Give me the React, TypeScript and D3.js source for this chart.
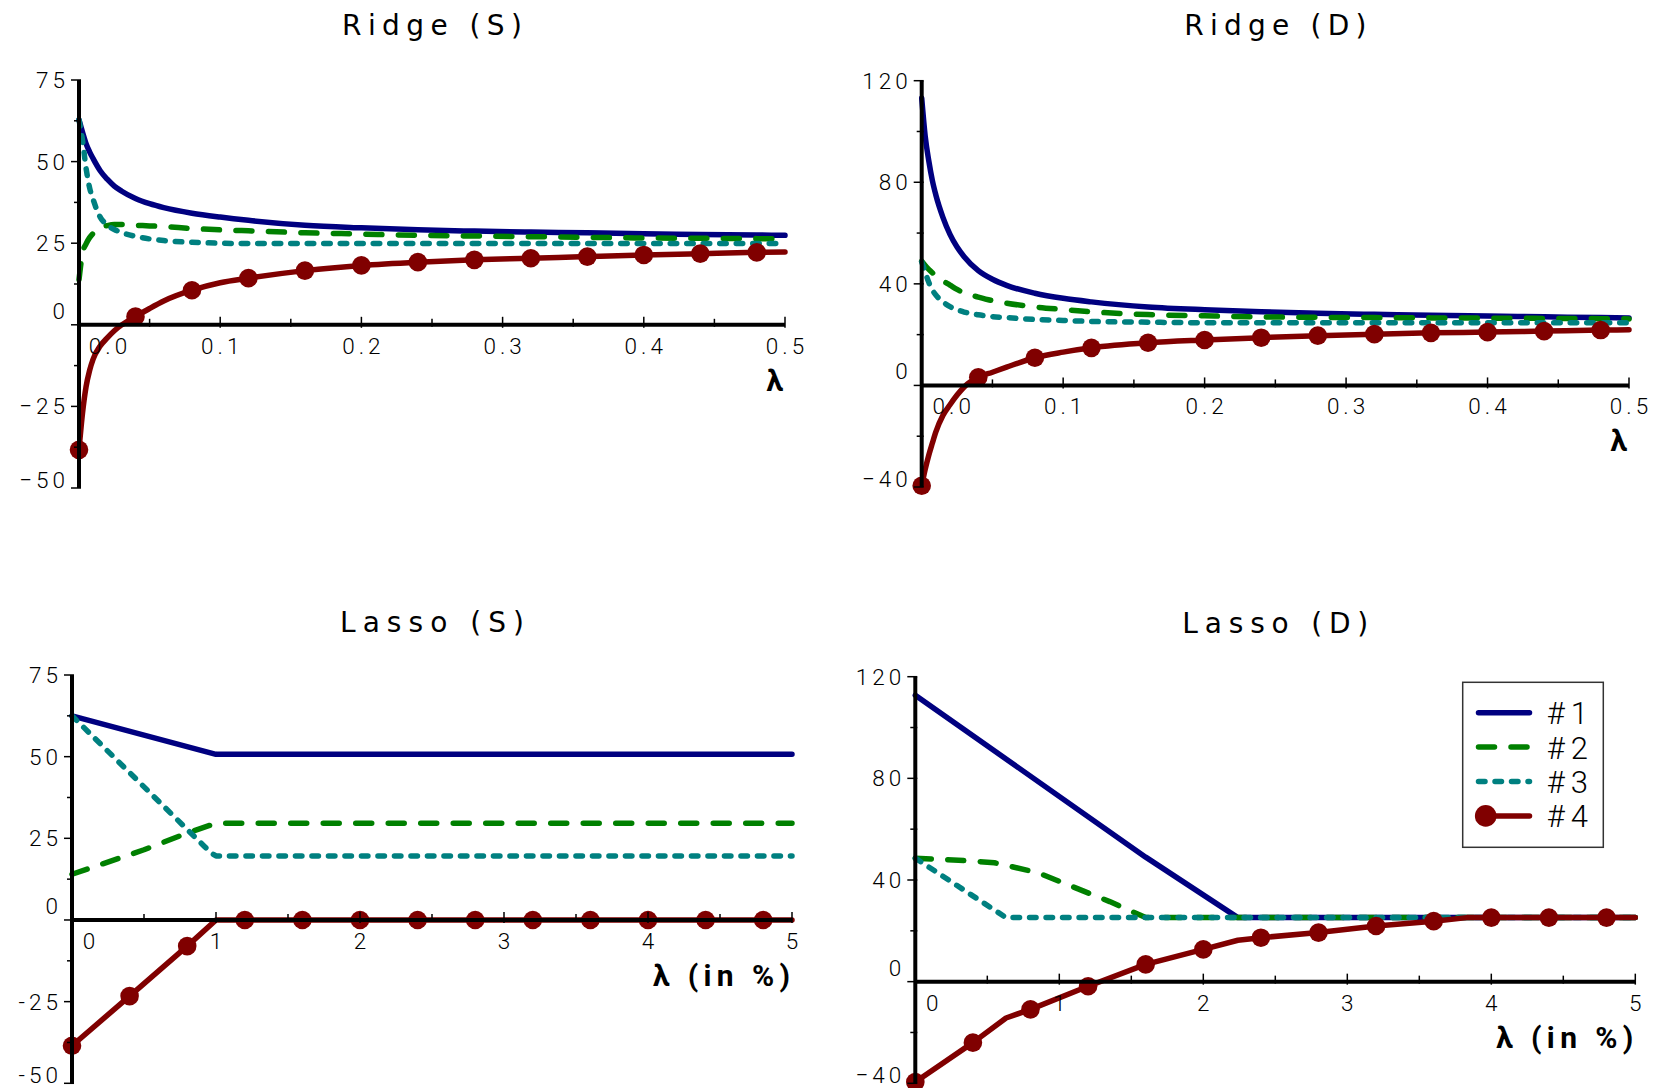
import React from 'react';
import * as d3 from 'd3';

// ---- Ridge paths (lambda from 0 to 0.5) ----
const RIDGE_LAMBDA = [0, 0.0025, 0.005, 0.0075, 0.01, 0.015, 0.02, 0.025, 0.03, 0.04, 0.05, 0.06, 0.08, 0.1, 0.12, 0.16, 0.2, 0.24, 0.28, 0.32, 0.36, 0.4, 0.44, 0.48, 0.5];

const RIDGE_S_1 = [62.8, 59.0, 55.5, 53.0, 50.9, 47.2, 44.6, 42.5, 41.0, 38.7, 37.1, 35.9, 34.2, 33.0, 32.0, 30.5, 29.7, 29.1, 28.7, 28.4, 28.2, 27.9, 27.7, 27.5, 27.4];
const RIDGE_S_2 = [13.8, 22.0, 24.8, 26.7, 28.0, 29.8, 30.4, 30.7, 30.7, 30.5, 30.3, 30.1, 29.5, 29.1, 28.8, 28.2, 27.8, 27.4, 27.2, 27.0, 26.8, 26.6, 26.5, 26.4, 26.3];
const RIDGE_S_3 = [62.8, 56.5, 48.0, 42.0, 38.4, 33.0, 30.6, 29.2, 28.3, 27.1, 26.3, 25.8, 25.3, 25.0, 24.9, 24.9, 24.9, 24.9, 24.9, 24.9, 24.9, 24.9, 24.9, 24.9, 24.9];
const RIDGE_S_4 = [-38.3, -27.0, -19.0, -14.0, -10.5, -6.5, -4.0, -1.8, -0.1, 2.5, 5.0, 7.3, 10.6, 12.9, 14.3, 16.6, 18.2, 19.2, 19.9, 20.4, 20.9, 21.4, 21.8, 22.2, 22.3];

const RIDGE_D_1 = [113.2, 98.0, 88.5, 80.8, 75.0, 66.2, 59.5, 54.5, 50.7, 45.2, 41.8, 39.4, 36.3, 34.3, 32.9, 30.9, 29.8, 29.0, 28.4, 28.0, 27.6, 27.3, 27.0, 26.7, 26.6];
const RIDGE_D_2 = [48.9, 47.2, 45.7, 44.4, 43.2, 41.2, 39.5, 37.8, 36.4, 34.8, 33.4, 32.4, 30.9, 29.9, 29.0, 27.9, 27.4, 27.0, 26.8, 26.7, 26.6, 26.5, 26.4, 26.3, 26.2];
const RIDGE_D_3 = [48.7, 44.6, 40.6, 37.6, 35.6, 32.9, 31.0, 29.8, 28.9, 27.8, 27.1, 26.7, 26.0, 25.6, 25.2, 24.9, 24.7, 24.7, 24.7, 24.7, 24.7, 24.7, 24.7, 24.7, 24.7];
const RIDGE_D_4 = [-39.5, -33.0, -27.5, -22.8, -18.3, -11.8, -7.6, -3.8, -0.6, 3.2, 5.2, 7.2, 10.9, 13.1, 14.8, 16.8, 17.9, 18.8, 19.6, 20.2, 20.7, 21.0, 21.4, 21.8, 21.9];

const RIDGE_MARKERS = [0, 0.04, 0.08, 0.12, 0.16, 0.2, 0.24, 0.28, 0.32, 0.36, 0.4, 0.44, 0.48];

// ---- Lasso paths (lambda in %, from 0 to 5) ----
const LASSO_S_1_X = [0, 1, 5];
const LASSO_S_1 = [62.5, 50.7, 50.7];
const LASSO_S_2_X = [0, 0.5, 0.8, 1, 5];
const LASSO_S_2 = [14.0, 21.5, 26.6, 29.6, 29.6];
const LASSO_S_3_X = [0, 0.92, 0.97, 1, 5];
const LASSO_S_3 = [62.5, 22.5, 20.4, 19.6, 19.6];
const LASSO_S_4_X = [0, 0.4, 0.8, 1, 1.2, 1.6, 2, 2.4, 2.8, 3.2, 3.6, 4, 4.4, 4.8, 5];
const LASSO_S_4 = [-38.5, -23.3, -8.0, 0, 0, 0, 0, 0, 0, 0, 0, 0, 0, 0, 0];

const LASSO_D_1_X = [0, 1.6, 2.24, 5];
const LASSO_D_1 = [112.7, 49.0, 25.2, 25.2];
const LASSO_D_2_X = [0, 0.3, 0.55, 0.85, 1.1, 1.35, 1.6, 5];
const LASSO_D_2 = [48.6, 47.8, 46.8, 42.9, 37.2, 31.5, 25.2, 25.2];
const LASSO_D_3_X = [0, 0.63, 5];
const LASSO_D_3 = [48.6, 25.2, 25.2];
const LASSO_D_4_X = [0, 0.4, 0.63, 0.8, 1.2, 1.6, 2, 2.24, 2.4, 2.8, 3.2, 3.6, 3.83, 4, 4.4, 4.8, 5];
const LASSO_D_4 = [-39.5, -24.0, -14.3, -10.9, -1.8, 6.8, 12.7, 16.3, 17.3, 19.3, 21.9, 23.8, 25.2, 25.2, 25.2, 25.2, 25.2];

const LASSO_MARKERS = [0, 0.4, 0.8, 1.2, 1.6, 2, 2.4, 2.8, 3.2, 3.6, 4, 4.4, 4.8];

// ---- axis ticks ----
const S_Y_TICKS = [75, 50, 25, 0, -25, -50];
const S_Y_MINOR = [62.5, 37.5, 12.5, -12.5, -37.5];
const D_Y_TICKS = [120, 80, 40, 0, -40];
const D_Y_MINOR = [100, 60, 20, -20];
const RIDGE_X_TICKS = [0.1, 0.2, 0.3, 0.4, 0.5];
const RIDGE_X_MINOR = [0.05, 0.15, 0.25, 0.35, 0.45];
const LASSO_X_TICKS = [1, 2, 3, 4, 5];
const LASSO_X_MINOR = [0.5, 1.5, 2.5, 3.5, 4.5];

const LEGEND_LABELS = ['#1', '#2', '#3', '#4'];

const COLORS = ['#000080', '#008000', '#008080', '#800000'];
const DASHES = [undefined, '16 16.5', '6.5 10', undefined];
const LINE_W = 5.5;

const TICK_FONT = 'Roboto, "DejaVu Sans", sans-serif';
const TITLE_FONT = '"DejaVu Sans", Roboto, sans-serif';

type Series = { x: number[]; y: number[] };

interface PanelCfg {
  title: string;
  titleWidth: number;
  titleY: number;
  left: number;
  right: number;
  top: number;
  bottom: number;
  xDomain: [number, number];
  yDomain: [number, number];
  yTicks: number[];
  yMinor: number[];
  xTicks: number[];
  xMinor: number[];
  xFmt: (v: number) => string;
  zeroLabel: string;
  zeroOffset: number;
  axisLabel: string;
  axisLabelWidth?: number;
  minus: string;
  smooth: boolean;
  series: Series[];
  markers: number[];
}

const LS = 4;

function Panel({ cfg }: { cfg: PanelCfg }) {
  const x = d3.scaleLinear().domain(cfg.xDomain).range([cfg.left, cfg.right]);
  const y = d3.scaleLinear().domain(cfg.yDomain).range([cfg.bottom, cfg.top]);
  const ax = x(0);
  const ay = y(0);
  const line = d3
    .line<[number, number]>()
    .x((d) => x(d[0]))
    .y((d) => y(d[1]))
    .curve(cfg.smooth ? d3.curveMonotoneX : d3.curveLinear);

  const yMin = cfg.yDomain[0];
  const red = cfg.series[3];
  const markerPts = cfg.markers
    .map((m) => {
      const i = red.x.findIndex((v) => Math.abs(v - m) < 1e-9);
      return i >= 0 ? [red.x[i], red.y[i]] : null;
    })
    .filter(Boolean) as [number, number][];

  return (
    <g>
      <text
        x={(cfg.left + cfg.right) / 2}
        y={cfg.titleY}
        textAnchor="middle"
        fontFamily={TITLE_FONT}
        fontSize={28}
        textLength={cfg.titleWidth}
        lengthAdjust="spacing"
        fill="#000"
      >
        {cfg.title}
      </text>

      {/* curves */}
      {cfg.series.map((s, i) => (
        <path
          key={i}
          d={line(s.x.map((v, j) => [v, s.y[j]] as [number, number])) || ''}
          fill="none"
          stroke={COLORS[i]}
          strokeWidth={LINE_W}
          strokeLinecap="round"
          strokeLinejoin="round"
          strokeDasharray={DASHES[i]}
        />
      ))}
      {markerPts.map((p, i) => (
        <circle key={i} cx={x(p[0])} cy={y(p[1])} r={9.3} fill={COLORS[3]} />
      ))}

      {/* axes */}
      <line x1={ax} x2={ax} y1={y(cfg.yDomain[1])} y2={y(cfg.yDomain[0])} stroke="#000" strokeWidth={4} />
      <line x1={ax} x2={x(cfg.xDomain[1])} y1={ay} y2={ay} stroke="#000" strokeWidth={4} />

      {cfg.yTicks.map((v) => (
        <line key={'yt' + v} x1={ax - 8} x2={ax + 2} y1={y(v)} y2={y(v)} stroke="#000" strokeWidth={1.5} />
      ))}
      {cfg.yMinor.map((v) => (
        <line key={'ym' + v} x1={ax - 5} x2={ax + 2} y1={y(v)} y2={y(v)} stroke="#000" strokeWidth={1.5} />
      ))}
      {cfg.xTicks.map((v) => (
        <line key={'xt' + v} x1={x(v)} x2={x(v)} y1={ay - 8} y2={ay + 3} stroke="#000" strokeWidth={1.5} />
      ))}
      {cfg.xMinor.map((v) => (
        <line key={'xm' + v} x1={x(v)} x2={x(v)} y1={ay - 6} y2={ay + 2} stroke="#000" strokeWidth={1.5} />
      ))}

      {/* tick labels */}
      <g fontFamily={TICK_FONT} fontWeight={300} fontSize={22.5} fill="#000" letterSpacing={LS}>
        {cfg.yTicks.map((v) => (
          <text
            key={'yl' + v}
            x={ax - 14 + LS}
            y={y(v) + (v === 0 ? -14 : v === yMin ? -8 : 0)}
            textAnchor="end"
            dominantBaseline="central"
          >
            {String(v).replace('-', cfg.minus)}
          </text>
        ))}
        {cfg.xTicks.map((v) => (
          <text key={'xl' + v} x={x(v) + LS / 2} y={ay + 29} textAnchor="middle">
            {cfg.xFmt(v)}
          </text>
        ))}
        <text x={ax + cfg.zeroOffset + LS / 2} y={ay + 29} textAnchor="middle">
          {cfg.zeroLabel}
        </text>
      </g>

      <text
        x={x(cfg.xDomain[1]) - 2}
        y={ay + 66}
        textAnchor="end"
        fontFamily={TICK_FONT}
        fontWeight={700}
        fontSize={30}
        fill="#000"
        textLength={cfg.axisLabelWidth}
        lengthAdjust={cfg.axisLabelWidth ? 'spacing' : undefined}
      >
        {cfg.axisLabel}
      </text>
    </g>
  );
}

const ridgeSeries = (a: number[][]): Series[] => a.map((ys) => ({ x: RIDGE_LAMBDA, y: ys }));

const PANELS: PanelCfg[] = [
  {
    title: 'Ridge (S)',
    titleWidth: 180,
    titleY: 35,
    left: 79,
    right: 785,
    top: 80,
    bottom: 488,
    xDomain: [0, 0.5],
    yDomain: [-50, 75],
    yTicks: S_Y_TICKS,
    yMinor: S_Y_MINOR,
    xTicks: RIDGE_X_TICKS,
    xMinor: RIDGE_X_MINOR,
    xFmt: (v) => v.toFixed(1),
    zeroLabel: '0.0',
    zeroOffset: 29,
    axisLabel: 'λ',
    minus: '\u2212',
    smooth: true,
    series: ridgeSeries([RIDGE_S_1, RIDGE_S_2, RIDGE_S_3, RIDGE_S_4]),
    markers: RIDGE_MARKERS,
  },
  {
    title: 'Ridge (D)',
    titleWidth: 182,
    titleY: 35,
    left: 921.7,
    right: 1629,
    top: 80.7,
    bottom: 487,
    xDomain: [0, 0.5],
    yDomain: [-40, 120],
    yTicks: D_Y_TICKS,
    yMinor: D_Y_MINOR,
    xTicks: RIDGE_X_TICKS,
    xMinor: RIDGE_X_MINOR,
    xFmt: (v) => v.toFixed(1),
    zeroLabel: '0.0',
    zeroOffset: 30,
    axisLabel: 'λ',
    minus: '\u2212',
    smooth: true,
    series: ridgeSeries([RIDGE_D_1, RIDGE_D_2, RIDGE_D_3, RIDGE_D_4]),
    markers: RIDGE_MARKERS,
  },
  {
    title: 'Lasso (S)',
    titleWidth: 184,
    titleY: 632,
    left: 72,
    right: 792,
    top: 675,
    bottom: 1083.3,
    xDomain: [0, 5],
    yDomain: [-50, 75],
    yTicks: S_Y_TICKS,
    yMinor: S_Y_MINOR,
    xTicks: LASSO_X_TICKS,
    xMinor: LASSO_X_MINOR,
    xFmt: (v) => String(v),
    zeroLabel: '0',
    zeroOffset: 17,
    axisLabel: 'λ (in %)',
    axisLabelWidth: 137,
    minus: '-',
    smooth: false,
    series: [
      { x: LASSO_S_1_X, y: LASSO_S_1 },
      { x: LASSO_S_2_X, y: LASSO_S_2 },
      { x: LASSO_S_3_X, y: LASSO_S_3 },
      { x: LASSO_S_4_X, y: LASSO_S_4 },
    ],
    markers: LASSO_MARKERS,
  },
  {
    title: 'Lasso (D)',
    titleWidth: 186,
    titleY: 633,
    left: 915.3,
    right: 1635.3,
    top: 676.7,
    bottom: 1083.3,
    xDomain: [0, 5],
    yDomain: [-40, 120],
    yTicks: D_Y_TICKS,
    yMinor: D_Y_MINOR,
    xTicks: LASSO_X_TICKS,
    xMinor: LASSO_X_MINOR,
    xFmt: (v) => String(v),
    zeroLabel: '0',
    zeroOffset: 17,
    axisLabel: 'λ (in %)',
    axisLabelWidth: 137,
    minus: '\u2212',
    smooth: false,
    series: [
      { x: LASSO_D_1_X, y: LASSO_D_1 },
      { x: LASSO_D_2_X, y: LASSO_D_2 },
      { x: LASSO_D_3_X, y: LASSO_D_3 },
      { x: LASSO_D_4_X, y: LASSO_D_4 },
    ],
    markers: LASSO_MARKERS,
  },
];

function Legend() {
  const x0 = 1462.7;
  const y0 = 682.3;
  const rowY = (i: number) => 712.7 + i * 34.4;
  return (
    <g>
      <rect x={x0} y={y0} width={140.6} height={165} fill="#fff" stroke="#333" strokeWidth={1.5} />
      {LEGEND_LABELS.map((lab, i) => (
        <g key={lab}>
          <line
            x1={i === 3 ? 1485.7 : 1478.5}
            x2={1529.5}
            y1={rowY(i)}
            y2={rowY(i)}
            stroke={COLORS[i]}
            strokeWidth={LINE_W}
            strokeLinecap="round"
            strokeDasharray={DASHES[i]}
          />
          {i === 3 && <circle cx={1485.7} cy={rowY(i)} r={10.8} fill={COLORS[3]} />}
          <text
            x={1546.7}
            y={rowY(i) + 11.5}
            fontFamily={TICK_FONT}
            fontWeight={300}
            fontSize={31}
            letterSpacing={6}
            fill="#000"
          >
            {lab}
          </text>
        </g>
      ))}
    </g>
  );
}

export default function App() {
  return (
    <svg
      width={1661}
      height={1088}
      viewBox="0 0 1661 1088"
      style={{ position: 'absolute', left: 0, top: 0, background: '#fff' }}
    >
      <rect width={1661} height={1088} fill="#fff" />
      {PANELS.map((p) => (
        <Panel key={p.title} cfg={p} />
      ))}
      <Legend />
    </svg>
  );
}
